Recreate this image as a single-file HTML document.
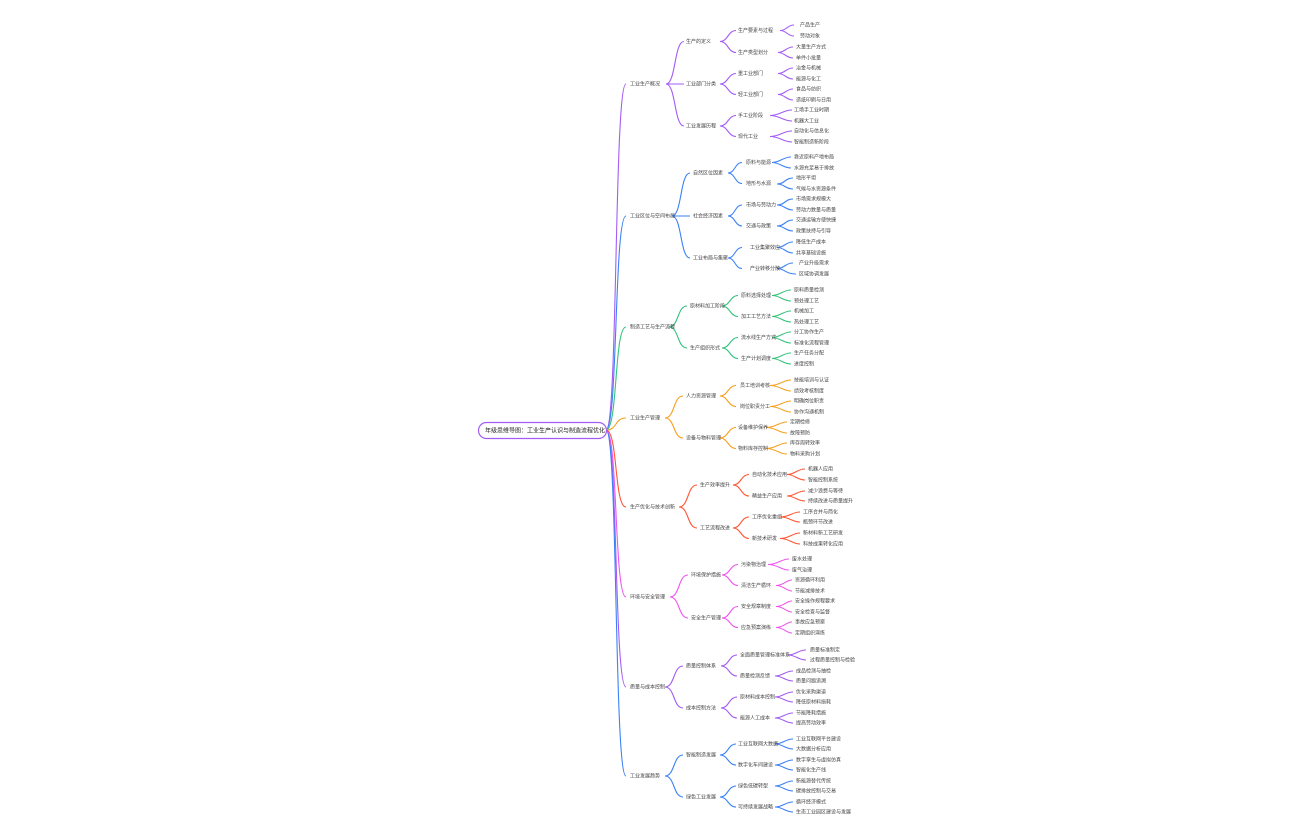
<!DOCTYPE html>
<html><head><meta charset="utf-8"><style>
html,body{margin:0;padding:0;background:#fff;width:1296px;height:840px;overflow:hidden}
svg text{font-family:"Liberation Sans","Noto Sans CJK SC",sans-serif;font-size:5px;fill:#444;dominant-baseline:middle}
</style></head><body>
<svg width="1296" height="840" viewBox="0 0 1296 840" xmlns="http://www.w3.org/2000/svg">
<g fill="none" stroke-width="1.1">
<path stroke="#a35cf5" d="M606 430 C618 430 614 84 626 84"/>
<path stroke="#3b82f6" d="M606 430 C618 430 614 216 626 216"/>
<path stroke="#34c37a" d="M606 430 C618 430 614 327 626 327"/>
<path stroke="#f5a020" d="M606 430 C618 430 614 418 626 418"/>
<path stroke="#ff5533" d="M606 430 C618 430 614 507 626 507"/>
<path stroke="#ee55ee" d="M606 430 C618 430 614 597 626 597"/>
<path stroke="#a35cf5" d="M606 430 C618 430 614 687 626 687"/>
<path stroke="#3b82f6" d="M606 430 C618 430 614 776 626 776"/>

<g stroke="#a35cf5">
<path d="M666 84 C676 84 674 41.5 684 41.5"/><path d="M666 84 C676 84 674 84 684 84"/><path d="M666 84 C676 84 674 126 684 126"/>
<path d="M720 41.5 C728 41.5 728 30.5 736 30.5"/><path d="M720 41.5 C728 41.5 728 52.5 736 52.5"/>
<path d="M720 84 C728 84 728 73.5 736 73.5"/><path d="M720 84 C728 84 728 94.5 736 94.5"/>
<path d="M720 126 C728 126 728 115.5 736 115.5"/><path d="M720 126 C728 126 728 136.5 736 136.5"/>
<path d="M780 30.5 C787 30.5 787 25 794 25"/><path d="M780 30.5 C787 30.5 787 36 794 36"/>
<path d="M778 52.5 C785 52.5 786 47 793 47"/><path d="M778 52.5 C785 52.5 786 58 793 58"/>
<path d="M778 73.5 C785 73.5 786 68 793 68"/><path d="M778 73.5 C785 73.5 786 79 793 79"/>
<path d="M778 94.5 C785 94.5 786 89 793 89"/><path d="M778 94.5 C785 94.5 786 100 793 100"/>
<path d="M770 115.5 C780 115.5 783 110 792 110"/><path d="M770 115.5 C780 115.5 783 121 792 121"/>
<path d="M770 136.5 C780 136.5 783 131 792 131"/><path d="M770 136.5 C780 136.5 783 142 792 142"/>
</g>
<g stroke="#3b82f6">
<path d="M672 216 C682 216 680 173 690 173"/><path d="M672 216 C682 216 680 216 690 216"/><path d="M672 216 C682 216 680 258 690 258"/>
<path d="M728 173 C735 173 735 162.5 742 162.5"/><path d="M728 173 C735 173 735 183.5 742 183.5"/>
<path d="M728 216 C735 216 735 205 742 205"/><path d="M728 216 C735 216 735 226 742 226"/>
<path d="M728 258 C735 258 735 247.5 742 247.5"/><path d="M728 258 C735 258 735 268.5 742 268.5"/>
<path d="M772 162.5 C780 162.5 783 157 791 157"/><path d="M772 162.5 C780 162.5 783 168 791 168"/>
<path d="M777 184 C785 184 785 178 793 178"/><path d="M777 184 C785 184 785 189 793 189"/>
<path d="M777 205 C785 205 785 199 793 199"/><path d="M777 205 C785 205 785 210 793 210"/>
<path d="M777 226 C785 226 785 220 793 220"/><path d="M777 226 C785 226 785 231 793 231"/>
<path d="M777 247.5 C785 247.5 785 242 793 242"/><path d="M777 247.5 C785 247.5 785 253 793 253"/>
<path d="M777 268.5 C785 268.5 785 263 793 263"/><path d="M777 268.5 C785 268.5 785 274 796 274"/>
</g>
<g stroke="#34c37a">
<path d="M669 327 C679 327 677 306 687 306"/><path d="M669 327 C679 327 677 348 687 348"/>
<path d="M722 306 C730 306 730 295.5 738 295.5"/><path d="M722 306 C730 306 730 316.5 738 316.5"/>
<path d="M722 348 C730 348 730 337.5 738 337.5"/><path d="M722 348 C730 348 730 358.5 738 358.5"/>
<path d="M772 295.5 C780 295.5 783 290 791 290"/><path d="M772 295.5 C780 295.5 783 301 791 301"/>
<path d="M772 316.5 C780 316.5 783 311 791 311"/><path d="M772 316.5 C780 316.5 783 322 791 322"/>
<path d="M772 337.5 C780 337.5 783 332 791 332"/><path d="M772 337.5 C780 337.5 783 343 791 343"/>
<path d="M772 358.5 C780 358.5 783 353 791 353"/><path d="M772 358.5 C780 358.5 783 364 791 364"/>
</g>
<g stroke="#f5a020">
<path d="M665 418 C675 418 673 396 683 396"/><path d="M665 418 C675 418 673 438 683 438"/>
<path d="M720 396 C728 396 728 385.5 736 385.5"/><path d="M720 396 C728 396 728 406.5 736 406.5"/>
<path d="M720 438 C728 438 728 427.5 736 427.5"/><path d="M720 438 C728 438 728 448.5 736 448.5"/>
<path d="M770 385.5 C780 385.5 783 380 791 380"/><path d="M770 385.5 C780 385.5 783 391 791 391"/>
<path d="M770 406.5 C780 406.5 783 401 791 401"/><path d="M770 406.5 C780 406.5 783 412 791 412"/>
<path d="M766 427.5 C776 427.5 779 422 787 422"/><path d="M766 427.5 C776 427.5 779 433 787 433"/>
<path d="M766 448.5 C776 448.5 779 443 787 443"/><path d="M766 448.5 C776 448.5 779 454 787 454"/>
</g>
<g stroke="#ff5533">
<path d="M679 507 C689 507 687 485 697 485"/><path d="M679 507 C689 507 687 528 697 528"/>
<path d="M733 485 C741 485 741 474.5 749 474.5"/><path d="M733 485 C741 485 741 496 749 496"/>
<path d="M733 528 C741 528 741 517 749 517"/><path d="M733 528 C741 528 741 538.5 749 538.5"/>
<path d="M787 474.5 C795 474.5 797 469 805 469"/><path d="M787 474.5 C795 474.5 797 480 805 480"/>
<path d="M787 496 C795 496 797 491 805 491"/><path d="M787 496 C795 496 797 501 805 501"/>
<path d="M780 517 C790 517 792 512 800 512"/><path d="M780 517 C790 517 792 522 800 522"/>
<path d="M780 538.5 C790 538.5 792 533 800 533"/><path d="M780 538.5 C790 538.5 792 544 800 544"/>
</g>
<g stroke="#ee55ee">
<path d="M670 597 C680 597 678 575 688 575"/><path d="M670 597 C680 597 678 618 688 618"/>
<path d="M722 575 C730 575 730 564.5 738 564.5"/><path d="M722 575 C730 575 730 585.5 738 585.5"/>
<path d="M722 618 C730 618 730 606.5 738 606.5"/><path d="M722 618 C730 618 730 627.5 738 627.5"/>
<path d="M768 564.5 C778 564.5 781 559 789 559"/><path d="M768 564.5 C778 564.5 781 570 789 570"/>
<path d="M776 585.5 C784 585.5 786 580 792 580"/><path d="M776 585.5 C784 585.5 786 591 792 591"/>
<path d="M776 606.5 C784 606.5 786 601 792 601"/><path d="M776 606.5 C784 606.5 786 612 792 612"/>
<path d="M776 627.5 C784 627.5 786 622 792 622"/><path d="M776 627.5 C784 627.5 786 633 792 633"/>
</g>
<g stroke="#a35cf5">
<path d="M665 687 C675 687 673 666 683 666"/><path d="M665 687 C675 687 673 708 683 708"/>
<path d="M721 666 C729 666 729 655 737 655"/><path d="M721 666 C729 666 729 676 737 676"/>
<path d="M721 708 C729 708 729 697 737 697"/><path d="M721 708 C729 708 729 718 737 718"/>
<path d="M788 655 C796 655 798 650 806 650"/><path d="M788 655 C796 655 798 660 806 660"/>
<path d="M775 676 C783 676 785 671 793 671"/><path d="M775 676 C783 676 785 681 793 681"/>
<path d="M775 697 C783 697 785 692 793 692"/><path d="M775 697 C783 697 785 702 793 702"/>
<path d="M775 718 C783 718 785 713 793 713"/><path d="M775 718 C783 718 785 723 793 723"/>
</g>
<g stroke="#3b82f6">
<path d="M665 776 C675 776 673 755 683 755"/><path d="M665 776 C675 776 673 797 683 797"/>
<path d="M720 755 C728 755 728 744 736 744"/><path d="M720 755 C728 755 728 765 736 765"/>
<path d="M720 797 C728 797 728 786 736 786"/><path d="M720 797 C728 797 728 807 736 807"/>
<path d="M775 744 C783 744 785 739 793 739"/><path d="M775 744 C783 744 785 749 793 749"/>
<path d="M775 765 C783 765 785 760 793 760"/><path d="M775 765 C783 765 785 770 793 770"/>
<path d="M775 786 C783 786 785 781 793 781"/><path d="M775 786 C783 786 785 791 793 791"/>
<path d="M775 807 C783 807 785 802 793 802"/><path d="M775 807 C783 807 785 812 793 812"/>
</g>
</g>

<rect x="478.5" y="422.5" width="128" height="16" rx="8" fill="#fff" stroke="#a35cf5" stroke-width="1.2"/>
<text x="485" y="431" style="font-size:6px;fill:#222">年级思维导图：工业生产认识与制造流程优化</text>

<text x="630" y="84">工业生产概况</text>
<text x="630" y="216">工业区位与空间布局</text>
<text x="630" y="327">制造工艺与生产流程</text>
<text x="630" y="418">工业生产管理</text>
<text x="630" y="507">生产优化与技术创新</text>
<text x="630" y="597">环境与安全管理</text>
<text x="630" y="687">质量与成本控制</text>
<text x="630" y="776">工业发展趋势</text>

<text x="686" y="41.5">生产的定义</text><text x="686" y="84">工业部门分类</text><text x="686" y="126">工业发展历程</text>
<text x="738" y="30.5">生产要素与过程</text><text x="738" y="52.5">生产类型划分</text><text x="738" y="73.5">重工业部门</text><text x="738" y="94.5">轻工业部门</text><text x="738" y="115.5">手工业阶段</text><text x="738" y="136.5">现代工业</text>
<text x="800" y="25">产品生产</text><text x="800" y="36">劳动对象</text><text x="796" y="47">大量生产方式</text><text x="796" y="58">单件小批量</text><text x="796" y="68">冶金与机械</text><text x="796" y="79">能源与化工</text><text x="796" y="89">食品与纺织</text><text x="796" y="100">造纸印刷与日用</text><text x="794" y="110">工场手工业时期</text><text x="794" y="121">机器大工业</text><text x="794" y="131">自动化与信息化</text><text x="794" y="142">智能制造新阶段</text>
<text x="693" y="173">自然区位因素</text><text x="693" y="216">社会经济因素</text><text x="693" y="258">工业布局与集聚</text>
<text x="746" y="162.5">原料与能源</text><text x="746" y="183.5">地形与水源</text><text x="746" y="205">市场与劳动力</text><text x="746" y="226">交通与政策</text><text x="750" y="247.5">工业集聚效应</text><text x="750" y="268.5">产业转移分散</text>
<text x="794" y="157">靠近原料产地布局</text><text x="794" y="168">水源充足易于排放</text><text x="796" y="178">地形平坦</text><text x="796" y="189">气候与水资源条件</text><text x="796" y="199">市场需求规模大</text><text x="796" y="210">劳动力数量与质量</text><text x="796" y="220">交通运输方便快捷</text><text x="796" y="231">政策扶持与引导</text><text x="796" y="242">降低生产成本</text><text x="796" y="253">共享基础设施</text><text x="799" y="263">产业升级需求</text><text x="799" y="274">区域协调发展</text>
<text x="690" y="306">原材料加工阶段</text><text x="690" y="348">生产组织形式</text>
<text x="741" y="295.5">原料选择处理</text><text x="741" y="316.5">加工工艺方法</text><text x="741" y="337.5">流水线生产方式</text><text x="741" y="358.5">生产计划调度</text>
<text x="794" y="290">原料质量检测</text><text x="794" y="301">预处理工艺</text><text x="794" y="311">机械加工</text><text x="794" y="322">热处理工艺</text><text x="794" y="332">分工协作生产</text><text x="794" y="343">标准化流程管理</text><text x="794" y="353">生产任务分配</text><text x="794" y="364">进度控制</text>
<text x="686" y="396">人力资源管理</text><text x="686" y="438">设备与物料管理</text>
<text x="740" y="385.5">员工培训考核</text><text x="740" y="406.5">岗位职责分工</text><text x="738" y="427.5">设备维护保养</text><text x="738" y="448.5">物料库存控制</text>
<text x="794" y="380">技能培训与认证</text><text x="794" y="391">绩效考核制度</text><text x="794" y="401">明确岗位职责</text><text x="794" y="412">协作沟通机制</text><text x="790" y="422">定期检修</text><text x="790" y="433">故障预防</text><text x="790" y="443">库存周转效率</text><text x="790" y="454">物料采购计划</text>
<text x="700" y="485">生产效率提升</text><text x="700" y="528">工艺流程改进</text>
<text x="752" y="474.5">自动化技术应用</text><text x="752" y="496">精益生产应用</text><text x="752" y="517">工序优化重组</text><text x="752" y="538.5">新技术研发</text>
<text x="808" y="469">机器人应用</text><text x="808" y="480">智能控制系统</text><text x="808" y="491">减少浪费与等待</text><text x="808" y="501">持续改进与质量提升</text><text x="803" y="512">工序合并与简化</text><text x="803" y="522">瓶颈环节改进</text><text x="803" y="533">新材料新工艺研发</text><text x="803" y="544">科技成果转化应用</text>
<text x="691" y="575">环境保护措施</text><text x="691" y="618">安全生产管理</text>
<text x="741" y="564.5">污染物治理</text><text x="741" y="585.5">清洁生产循环</text><text x="741" y="606.5">安全规章制度</text><text x="741" y="627.5">应急预案演练</text>
<text x="792" y="559">废水处理</text><text x="792" y="570">废气治理</text><text x="795" y="580">资源循环利用</text><text x="795" y="591">节能减排技术</text><text x="795" y="601">安全操作规程要求</text><text x="795" y="612">安全检查与监督</text><text x="795" y="622">事故应急预案</text><text x="795" y="633">定期组织演练</text>
<text x="686" y="666">质量控制体系</text><text x="686" y="708">成本控制方法</text>
<text x="740" y="655">全面质量管理标准体系</text><text x="740" y="676">质量检测反馈</text><text x="740" y="697">原材料成本控制</text><text x="740" y="718">能源人工成本</text>
<text x="810" y="650">质量标准制定</text><text x="810" y="660">过程质量控制与检验</text><text x="796" y="671">成品检测与抽检</text><text x="796" y="681">质量问题追溯</text><text x="796" y="692">优化采购渠道</text><text x="796" y="702">降低原材料损耗</text><text x="796" y="713">节能降耗措施</text><text x="796" y="723">提高劳动效率</text>
<text x="686" y="755">智能制造发展</text><text x="686" y="797">绿色工业发展</text>
<text x="738" y="744">工业互联网大数据</text><text x="738" y="765">数字化车间建设</text><text x="738" y="786">绿色低碳转型</text><text x="738" y="807">可持续发展战略</text>
<text x="796" y="739">工业互联网平台建设</text><text x="796" y="749">大数据分析应用</text><text x="796" y="760">数字孪生与虚拟仿真</text><text x="796" y="770">智能化生产线</text><text x="796" y="781">新能源替代传统</text><text x="796" y="791">碳排放控制与交易</text><text x="796" y="802">循环经济模式</text><text x="796" y="812">生态工业园区建设与发展</text>
</svg>
</body></html>
